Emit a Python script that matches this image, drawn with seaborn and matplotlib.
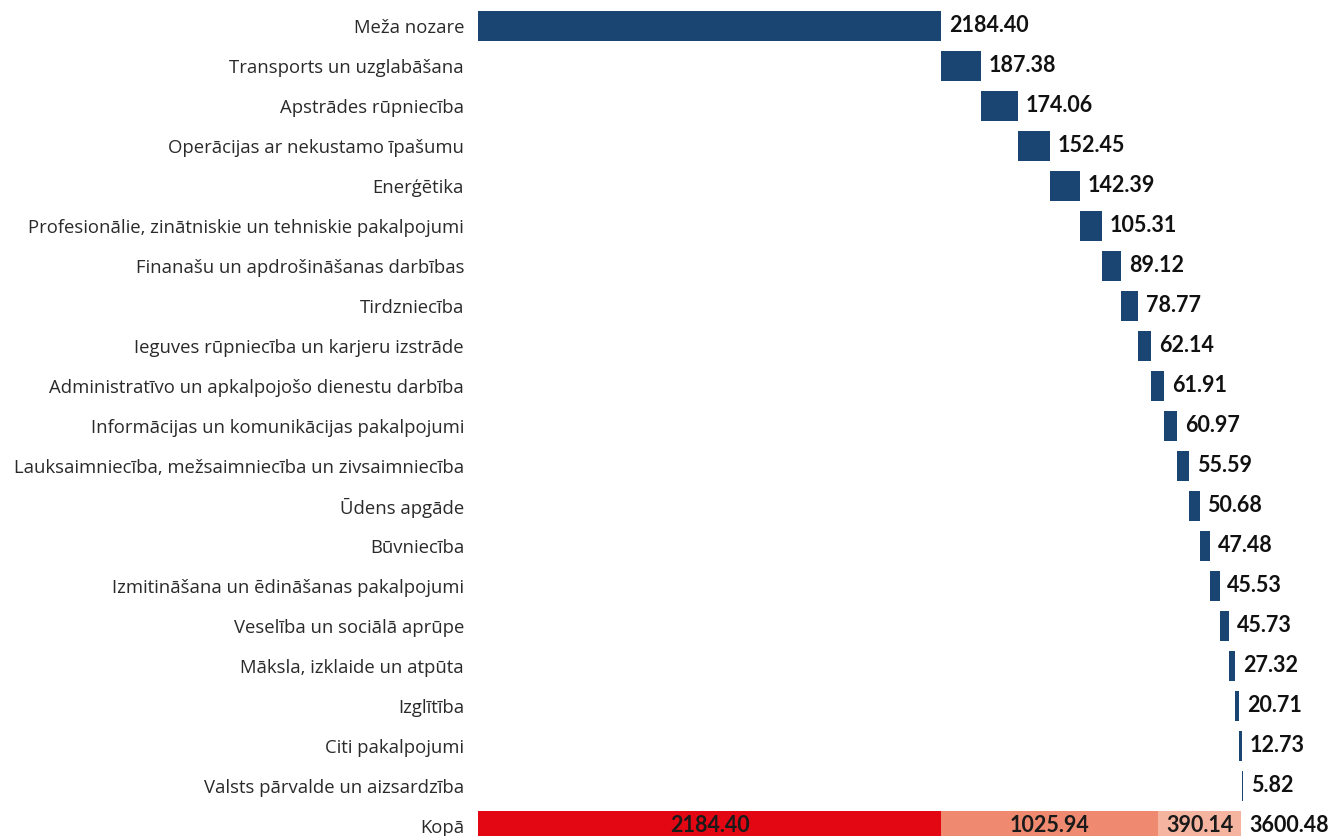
import numpy as np
import pandas as pd
import matplotlib
matplotlib.use("Agg")
import matplotlib.pyplot as plt
import seaborn as sns

categories = [
    "Meža nozare",
    "Transports un uzglabāšana",
    "Apstrādes rūpniecība",
    "Operācijas ar nekustamo īpašumu",
    "Enerģētika",
    "Profesionālie, zinātniskie un tehniskie pakalpojumi",
    "Finanašu un apdrošināšanas darbības",
    "Tirdzniecība",
    "Ieguves rūpniecība un karjeru izstrāde",
    "Administratīvo un apkalpojošo dienestu darbība",
    "Informācijas un komunikācijas pakalpojumi",
    "Lauksaimniecība, mežsaimniecība un zivsaimniecība",
    "Ūdens apgāde",
    "Būvniecība",
    "Izmitināšana un ēdināšanas pakalpojumi",
    "Veselība un sociālā aprūpe",
    "Māksla, izklaide un atpūta",
    "Izglītība",
    "Citi pakalpojumi",
    "Valsts pārvalde un aizsardzība",
]
values = [2184.40, 187.38, 174.06, 152.45, 142.39, 105.31, 89.12, 78.77, 62.14,
          61.91, 60.97, 55.59, 50.68, 47.48, 45.53, 45.73, 27.32, 20.71, 12.73, 5.82]
total_label = "Kopā"
total_parts = [2184.40, 1025.94, 390.14]
total_value = 3600.48

NAVY = "#1a4472"
PART_COLORS = ["#e30613", "#ef8a70", "#f5b4a0"]

sns.set_theme(style="white")
plt.rcParams["font.family"] = ["Open Sans", "DejaVu Sans"]

vals = np.array(values)
ends = np.cumsum(vals)
starts = ends - vals
order = categories + [total_label]

part_cum = np.cumsum(total_parts)

df_end = pd.DataFrame({"cat": order, "x": list(ends) + [part_cum[2]]})
df_start = pd.DataFrame({"cat": order, "x": list(starts) + [part_cum[1]]})
df_red = pd.DataFrame({"cat": [total_label], "x": [part_cum[0]]})

fig = plt.figure(figsize=(13.35, 8.36), dpi=100)
ax = fig.add_axes([478 / 1335, 0, 1 - 478 / 1335, 1])

pal_end = {c: NAVY for c in categories}
pal_end[total_label] = PART_COLORS[2]
pal_start = {c: "white" for c in categories}
pal_start[total_label] = PART_COLORS[1]

common = dict(x="x", y="cat", hue="cat", legend=False, width=0.73, ax=ax,
              linewidth=0, saturation=1)
sns.barplot(data=df_end, palette=pal_end, order=order, hue_order=order, **common)
sns.barplot(data=df_start, palette=pal_start, order=order, hue_order=order, **common)
sns.barplot(data=df_red, palette={total_label: PART_COLORS[0]}, order=order, **common)

ax.set_xlim(0, 4043)
ax.set_ylim(20.25, -0.65)
for s in ax.spines.values():
    s.set_visible(False)
ax.set_xticks([])
ax.set_xlabel("")
ax.set_ylabel("")
ax.tick_params(axis="y", length=0, pad=10, labelsize=13.3, labelcolor="#2a2a2a")

lab_font = ["Lato", "DejaVu Sans"]
for i, (e, v) in enumerate(zip(ends, vals)):
    ax.annotate(f"{v:.2f}", xy=(e, i), xytext=(5.5, 0), textcoords="offset points",
                ha="left", va="center", fontsize=15.5, fontweight="bold",
                color="#111111", family=lab_font)

n = len(categories)
prev = 0
for p, c in zip(total_parts, part_cum):
    ax.text((prev + c) / 2, n, f"{p:.2f}", ha="center", va="center",
            fontsize=15.5, fontweight="bold", color="#1a1a1a", family=lab_font)
    prev = c
ax.annotate(f"{total_value:.2f}", xy=(part_cum[2], n), xytext=(5.5, 0),
            textcoords="offset points", ha="left", va="center",
            fontsize=15.5, fontweight="bold", color="#111111", family=lab_font)

fig.savefig("out.png", dpi=100)
